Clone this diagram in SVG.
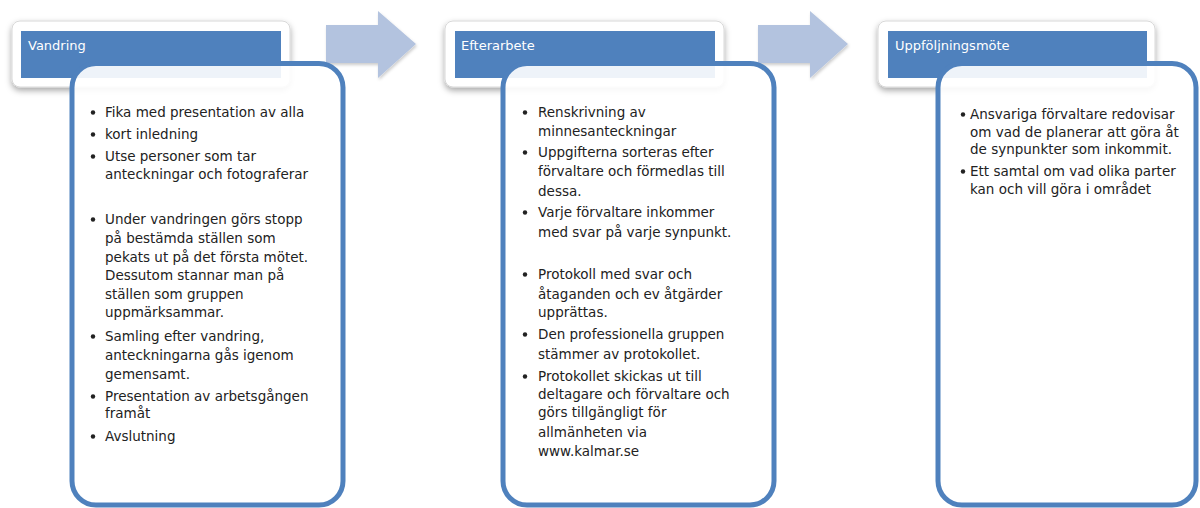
<svg xmlns="http://www.w3.org/2000/svg" width="1200" height="508" viewBox="0 0 1200 508">
<defs>
<filter id="sh" x="-10%" y="-20%" width="120%" height="160%">
<feDropShadow dx="0" dy="3" stdDeviation="3" flood-color="#000" flood-opacity="0.35"/>
</filter>
<filter id="ash" x="-10%" y="-10%" width="130%" height="130%">
<feDropShadow dx="1" dy="2" stdDeviation="1.5" flood-color="#000" flood-opacity="0.2"/>
</filter>
</defs>
<style>
.hout{fill:#ffffff;stroke:#d8d8d8;stroke-width:1}
.hin{fill:#4f81bd}
.htx{font-family:"DejaVu Sans",sans-serif;font-size:13px;fill:#ffffff}
.body{fill:#ffffff;fill-opacity:0.9;stroke:#4f81bd;stroke-width:5}
.tx{font-family:"DejaVu Sans",sans-serif;font-size:13.5px;fill:#222222}
.bl{fill:#222222}
.arr{fill:#b3c3df}
</style>
<g id="connectors">
<polygon class="arr" filter="url(#ash)" points="326,25 378,25 378,11 416,44 378,78 378,63 326,63"/>
<polygon class="arr" filter="url(#ash)" points="758,25 810,25 810,11 848,44 810,78 810,63 758,63"/>
</g>
<g id="vandring">
<rect class="hout" filter="url(#sh)" x="12" y="21" width="278" height="66" rx="8"/>
<rect class="hin" x="21" y="31" width="260" height="47"/>
<text class="htx" x="28" y="50">Vandring</text>
<rect class="body" x="72" y="63.5" width="271" height="441.5" rx="24"/>
<g class="bl">
<circle cx="93" cy="112.5" r="2.2"/><circle cx="93" cy="134.5" r="2.2"/><circle cx="93" cy="156.5" r="2.2"/><circle cx="93" cy="219.5" r="2.2"/><circle cx="93" cy="336.5" r="2.2"/><circle cx="93" cy="396.5" r="2.2"/><circle cx="93" cy="436.5" r="2.2"/>
</g>
<text class="tx">
<tspan x="105" y="117">Fika med presentation  av alla</tspan>
<tspan x="105" y="139">kort inledning</tspan>
<tspan x="105" y="161">Utse personer som tar</tspan>
<tspan x="105" y="179">anteckningar och fotograferar</tspan>
<tspan x="105" y="224">Under vandringen görs stopp</tspan>
<tspan x="105" y="243">på bestämda ställen som</tspan>
<tspan x="105" y="262">pekats ut på det första mötet.</tspan>
<tspan x="105" y="280">Dessutom stannar man på</tspan>
<tspan x="105" y="299">ställen som gruppen</tspan>
<tspan x="105" y="317">uppmärksammar.</tspan>
<tspan x="105" y="341">Samling efter vandring,</tspan>
<tspan x="105" y="360">anteckningarna gås igenom</tspan>
<tspan x="105" y="379">gemensamt.</tspan>
<tspan x="105" y="401">Presentation av arbetsgången</tspan>
<tspan x="105" y="418">framåt</tspan>
<tspan x="105" y="441">Avslutning</tspan>
</text>
</g>
<g id="efterarbete">
<rect class="hout" filter="url(#sh)" x="445" y="21" width="279" height="66" rx="8"/>
<rect class="hin" x="455" y="31" width="260" height="47"/>
<text class="htx" x="461" y="50">Efterarbete</text>
<rect class="body" x="503" y="63.5" width="271" height="441.5" rx="24"/>
<g class="bl">
<circle cx="525" cy="112.5" r="2.2"/><circle cx="525" cy="152.5" r="2.2"/><circle cx="525" cy="212.5" r="2.2"/><circle cx="525" cy="274.5" r="2.2"/><circle cx="525" cy="334.5" r="2.2"/><circle cx="525" cy="376.5" r="2.2"/>
</g>
<text class="tx">
<tspan x="538" y="117">Renskrivning av</tspan>
<tspan x="538" y="136">minnesanteckningar</tspan>
<tspan x="538" y="157">Uppgifterna sorteras efter</tspan>
<tspan x="538" y="176">förvaltare och förmedlas till</tspan>
<tspan x="538" y="196">dessa.</tspan>
<tspan x="538" y="217">Varje förvaltare inkommer</tspan>
<tspan x="538" y="237">med svar på varje synpunkt.</tspan>
<tspan x="538" y="279">Protokoll med svar och</tspan>
<tspan x="538" y="299">åtaganden och ev åtgärder</tspan>
<tspan x="538" y="317">upprättas.</tspan>
<tspan x="538" y="339">Den professionella gruppen</tspan>
<tspan x="538" y="359">stämmer av protokollet.</tspan>
<tspan x="538" y="381">Protokollet skickas ut till</tspan>
<tspan x="538" y="399">deltagare och förvaltare och</tspan>
<tspan x="538" y="417">görs tillgängligt för</tspan>
<tspan x="538" y="437">allmänheten via</tspan>
<tspan x="538" y="456">www.kalmar.se</tspan>
</text>
</g>
<g id="uppfoljningsmote">
<rect class="hout" filter="url(#sh)" x="878" y="21" width="277" height="66" rx="8"/>
<rect class="hin" x="888" y="31" width="259" height="47"/>
<text class="htx" x="895" y="50">Uppföljningsmöte</text>
<rect class="body" x="938" y="63.5" width="258" height="441.5" rx="24"/>
<g class="bl">
<circle cx="963" cy="114.5" r="2.2"/><circle cx="963" cy="171.5" r="2.2"/>
</g>
<text class="tx">
<tspan x="970" y="119">Ansvariga förvaltare redovisar</tspan>
<tspan x="970" y="137">om vad de planerar att göra åt</tspan>
<tspan x="970" y="154">de synpunkter som inkommit.</tspan>
<tspan x="970" y="176">Ett samtal om vad olika parter</tspan>
<tspan x="970" y="194">kan och vill göra i området</tspan>
</text>
</g>
</svg>
